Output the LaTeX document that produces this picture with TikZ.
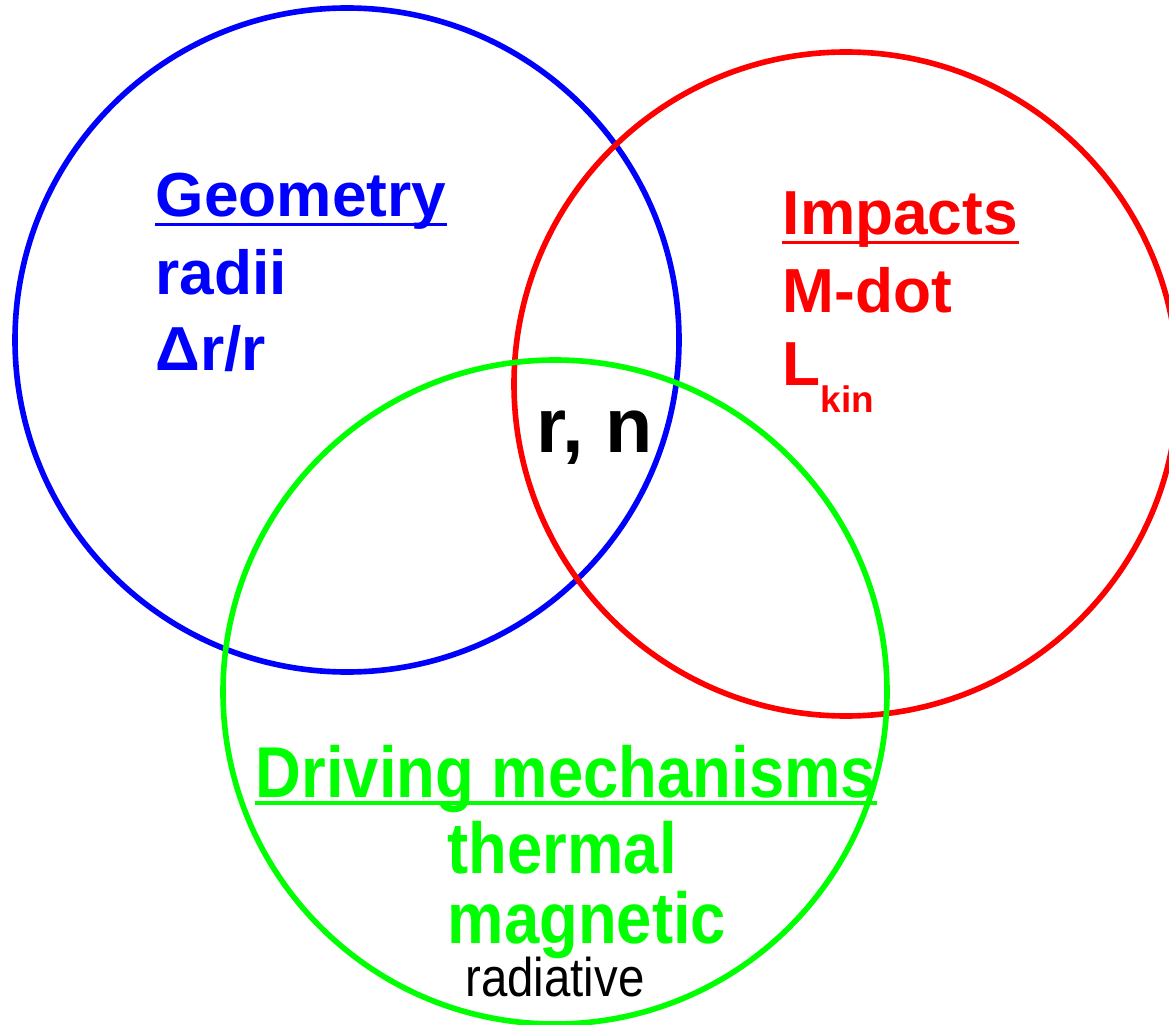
\documentclass[tikz,border=0pt]{standalone}
\usepackage{fontspec}
\setmainfont{Liberation Sans}
\usepackage{graphicx}
\usetikzlibrary{positioning}
\tikzset{
    ring/.style={line width=1.6pt},
    head/.style={inner sep=0pt,anchor=base west,font=\bfseries\fontsize{17.7}{21}\selectfont},
    big/.style={inner sep=0pt,anchor=base,font=\bfseries\fontsize{22}{26}\selectfont},
    narrow/.style={inner sep=0pt,font=\bfseries\fontsize{20.5}{24}\selectfont},
    uline/.style={line width=1.1pt}
}
\newcommand{\nrw}[1]{\scalebox{0.88}[1]{#1}}

\begin{document}
\begin{tikzpicture}
  \useasboundingbox (0,0) rectangle (11.69,10.24);
  \clip (0,0) rectangle (11.69,10.24);

  % the three circles
  \coordinate (Cgeo) at (3.47,6.84);
  \coordinate (Cimp) at (8.46,6.40);
  \coordinate (Cdrv) at (5.55,3.32);
  \draw[ring,blue]  (Cgeo) circle (3.32);
  \draw[ring,red]   (Cimp) circle (3.32);
  \draw[ring,green] (Cdrv) circle (3.32);

  % geometry
  \node[head,blue] (geo) at (1.55,8.07) {Geometry};
  \draw[uline,blue] ([yshift=-0.075cm]geo.base west) -- ([yshift=-0.075cm]geo.base east);
  \node[head,blue] (radii) at (1.55,7.29) {radii};
  \node[head,blue] (dr) at (1.55,6.54) {Δr/r};

  % impacts
  \node[head,red] (imp) at (7.82,7.89) {Impacts};
  \draw[uline,red] ([yshift=-0.075cm]imp.base west) -- ([yshift=-0.075cm]imp.base east);
  \node[head,red] (mdot) at (7.82,7.12) {M-dot};
  \node[head,red] (lkin) at (7.82,6.39) {L\raisebox{-7.7pt}{\fontsize{10.5}{12}\selectfont kin}};

  % centre
  \node[big] (rn) at (5.95,5.72) {r, n};

  % driving mechanisms
  \node[narrow,green,anchor=base] (drv) at (5.66,2.27) {\nrw{Driving mechanisms}};
  \draw[uline,green] ([yshift=-0.06cm]drv.base west) -- ([yshift=-0.06cm]drv.base east);
  \node[narrow,green,anchor=base west] (therm) at (4.47,1.51) {\nrw{thermal}};
  \node[narrow,green,anchor=base west,text depth=0pt] (magn) at (4.47,0.81) {\nrw{magnetic}};
  \node[inner sep=0pt,anchor=base,font=\fontsize{15.5}{19}\selectfont] (rad) at (5.55,0.28) {\scalebox{0.87}[1]{radiative}};
\end{tikzpicture}
\end{document}
